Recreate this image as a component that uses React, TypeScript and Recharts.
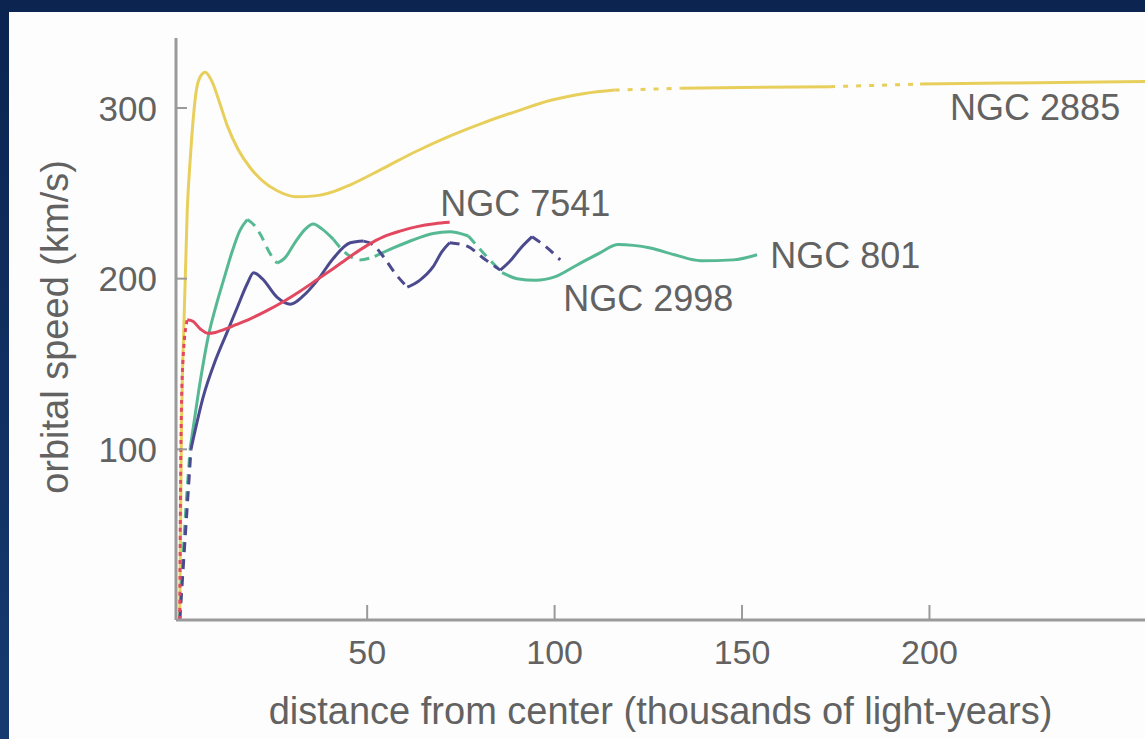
import React from 'react';
import { LineChart, Line, XAxis, YAxis, ReferenceDot } from 'recharts';

// ---------- data (distance in thousands of light-years, orbital speed in km/s) ----------
const X_TICKS = [50, 100, 150, 200];
const Y_TICKS = [100, 200, 300];

const NGC_2885_POINTS: [number, number][] = [
  [0, 0], [0.4, 100], [1.2, 180], [2, 240], [2.8, 270], [4.4, 310], [5.4, 318], [6.8, 321],
  [8.5, 316], [10.5, 304], [12.7, 289.5], [15.5, 276], [18.8, 265], [22, 257.5], [26, 251.5],
  [31, 248], [36, 248.5], [41, 251], [45.5, 255], [54, 264.3], [63, 274.5], [72, 283.5],
  [81, 291.3], [90, 298.2], [99, 304.5], [108, 308.5], [116, 310.5], [125, 311], [133.5, 311.5],
  [150, 312], [173.5, 312.5], [185, 313.2], [197.5, 314], [220, 314.6], [257.5, 315.5],
];
const NGC_2885_DASHED: [number, number][] = [[116, 133.5], [173.5, 197.5]];

const NGC_7541_POINTS: [number, number][] = [
  [0, 0], [0.3, 100], [0.8, 150], [2, 176], [3.5, 175], [5.5, 170.5], [7.6, 168], [9.5, 168.5],
  [11.6, 170], [15, 173], [18.8, 176.5], [23, 181], [27.6, 186.5], [32, 192.5], [36.7, 199.5],
  [41, 206], [45.5, 213], [50, 219.5], [54.3, 224.5], [59, 228], [63.3, 230.5], [68, 232.2],
  [72, 233],
];
const NGC_7541_DASHED: [number, number][] = [[0, 2]];

const NGC_801_POINTS: [number, number][] = [
  [0, 0], [1.2, 50], [2.8, 101], [4.9, 132], [7.6, 166], [9.8, 185], [11.8, 200], [14, 216],
  [16, 228], [18, 234.6], [20, 231], [21.5, 226], [24, 215], [26, 209], [28, 212], [31, 222],
  [33.5, 229], [35.6, 232], [38, 229], [41, 223], [44, 215.5], [48, 211], [52, 213], [57, 218],
  [62, 222.5], [67.6, 226.5], [72, 227.5], [77, 225], [81, 215], [86, 203.5], [90, 200],
  [95, 199], [100, 201], [106, 208], [112, 215], [117, 220], [121, 219.5], [125.5, 218],
  [132, 214], [139, 210.5], [147.6, 211], [154, 214],
];
const NGC_801_DASHED: [number, number][] = [[0, 2.8], [18, 26], [41, 52], [77, 86]];

const NGC_2998_POINTS: [number, number][] = [
  [0, 0], [1.5, 50], [3, 100], [6.3, 131], [9.5, 152], [12.7, 169], [15.5, 184], [18, 197],
  [19.7, 203.5], [22, 200], [26, 189], [29.5, 185], [33, 190], [36.7, 199], [41, 212],
  [45.5, 221], [49, 222], [51.5, 220], [54.3, 213], [57.5, 203], [60.7, 195], [64, 199],
  [67.6, 207], [70, 216], [72, 221], [76.7, 219], [81, 212], [85.5, 205], [88, 210], [91, 218],
  [94, 224.6], [97.5, 219], [101.5, 211],
];
const NGC_2998_DASHED: [number, number][] = [[0, 3], [49, 60.7], [72, 85.5], [94, 101.5]];

const GALAXY_LABELS = [
  { name: 'NGC 2885', x: 205.5, v: 293 },
  { name: 'NGC 7541', x: 69.5, v: 237 },
  { name: 'NGC 801', x: 157.5, v: 206 },
  { name: 'NGC 2998', x: 102.3, v: 181 },
];

// ---------- styles ----------
const FONT = '"Liberation Sans", Arial, Helvetica, sans-serif';
const TEXT = '#626262';
const AXIS = '#9a9a9a';

const SERIES = [
  { id: 'n2885', points: NGC_2885_POINTS, dashed: NGC_2885_DASHED, color: '#e8cf5c', dash: '5 8' },
  { id: 'n801', points: NGC_801_POINTS, dashed: NGC_801_DASHED, color: '#56b994', dash: '10 7' },
  { id: 'n2998', points: NGC_2998_POINTS, dashed: NGC_2998_DASHED, color: '#4c4a8e', dash: '10 7' },
  { id: 'n7541', points: NGC_7541_POINTS, dashed: NGC_7541_DASHED, color: '#e2485f', dash: '4 4' },
];

type Run = { dashed: boolean; data: { x: number; v: number }[] };

function splitRuns(points: [number, number][], dashed: [number, number][]): Run[] {
  const runs: Run[] = [];
  for (let i = 0; i < points.length - 1; i++) {
    const mid = (points[i][0] + points[i + 1][0]) / 2;
    const d = dashed.some(([a, b]) => mid > a && mid < b);
    const last = runs[runs.length - 1];
    const next = { x: points[i + 1][0], v: points[i + 1][1] };
    if (last && last.dashed === d) last.data.push(next);
    else runs.push({ dashed: d, data: [{ x: points[i][0], v: points[i][1] }, next] });
  }
  return runs;
}

const XTick = (props: any) => {
  const { x, y, payload } = props;
  return (
    <g>
      <line x1={x} x2={x} y1={y - 15} y2={y} stroke={AXIS} strokeWidth={2} />
      <text x={x} y={y + 44} textAnchor="middle" fill={TEXT} fontSize={34} fontFamily={FONT}>
        {payload.value}
      </text>
    </g>
  );
};

const YTick = (props: any) => {
  const { x, y, payload } = props;
  return (
    <g>
      <line x1={x} x2={x + 11} y1={y} y2={y} stroke={AXIS} strokeWidth={2} />
      <text x={x - 19} y={y} dy="0.36em" textAnchor="end" fill={TEXT} fontSize={35} fontFamily={FONT}>
        {payload.value}
      </text>
    </g>
  );
};

const XTitle = (props: any) => {
  const vb = props.viewBox || { x: 0, y: 0, width: 0 };
  return (
    <text x={vb.x + vb.width / 2} y={vb.y + 104} textAnchor="middle" fill={TEXT} fontSize={38} fontFamily={FONT}>
      distance from center (thousands of light-years)
    </text>
  );
};

const YTitle = (props: any) => {
  const vb = props.viewBox || { x: 0, y: 0, height: 0 };
  const cx = vb.x + 68;
  const cy = vb.y + vb.height / 2 - 2;
  return (
    <text
      x={cx}
      y={cy}
      transform={`rotate(-90, ${cx}, ${cy})`}
      textAnchor="middle"
      fill={TEXT}
      fontSize={38}
      fontFamily={FONT}
    >
      orbital speed (km/s)
    </text>
  );
};

const GalaxyLabel = (props: any) => {
  const vb = props.viewBox || { x: 0, y: 0 };
  return (
    <text x={vb.x} y={vb.y} fill={TEXT} fontSize={36} fontFamily={FONT}>
      {props.text}
    </text>
  );
};

export default function App() {
  return (
    <div
      style={{
        position: 'absolute',
        left: 0,
        top: 0,
        width: 1145,
        height: 739,
        overflow: 'hidden',
        background: 'linear-gradient(180deg, #0b2450 0%, #163a70 100%)',
      }}
    >
      <div style={{ position: 'absolute', left: 9, top: 12, right: 0, bottom: 0, background: '#fdfdfd' }} />
      <div style={{ position: 'absolute', left: 0, top: 0 }}>
        <LineChart width={1145} height={739} margin={{ top: 38, right: 0, bottom: 0, left: 0 }}>
          <XAxis
            type="number"
            dataKey="x"
            domain={[-1, 257.5]}
            allowDataOverflow
            ticks={X_TICKS}
            height={119}
            tickSize={0}
            tickMargin={0}
            tickLine={false}
            axisLine={{ stroke: AXIS, strokeWidth: 3 }}
            tick={XTick}
            label={<XTitle />}
          />
          <YAxis
            type="number"
            dataKey="v"
            domain={[0, 341]}
            allowDataOverflow
            ticks={Y_TICKS}
            width={176}
            tickSize={0}
            tickMargin={0}
            tickLine={false}
            axisLine={{ stroke: AXIS, strokeWidth: 3 }}
            tick={YTick}
            label={<YTitle />}
          />
          {SERIES.flatMap((s) =>
            splitRuns(s.points, s.dashed).map((run, i) => (
              <Line
                key={`${s.id}-${i}`}
                data={run.data}
                dataKey="v"
                type="monotone"
                stroke={s.color}
                strokeWidth={3}
                strokeDasharray={run.dashed ? s.dash : undefined}
                dot={false}
                activeDot={false}
                isAnimationActive={false}
              />
            ))
          )}
          {GALAXY_LABELS.map((g) => (
            <ReferenceDot
              key={g.name}
              x={g.x}
              y={g.v}
              r={0}
              fill="none"
              stroke="none"
              label={<GalaxyLabel text={g.name} />}
            />
          ))}
        </LineChart>
      </div>
    </div>
  );
}
